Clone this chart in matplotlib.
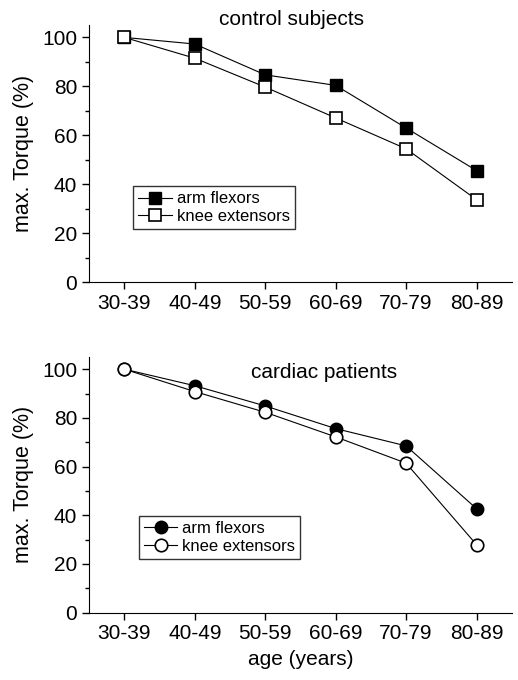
import matplotlib.pyplot as plt
from matplotlib.ticker import MultipleLocator

plt.rcParams['font.family'] = ['Liberation Sans', 'DejaVu Sans']

ages = ['30-39', '40-49', '50-59', '60-69', '70-79', '80-89']
ctrl_arm = [100, 97.3, 84.7, 80.4, 63.0, 45.6]
ctrl_knee = [100, 91.5, 79.7, 67.1, 54.5, 33.7]
card_arm = [100, 93.2, 84.9, 75.6, 68.5, 42.7]
card_knee = [100, 90.8, 82.3, 72.2, 61.4, 27.9]

fig = plt.figure(figsize=(5.18, 6.8), dpi=100)
ax1 = fig.add_axes([0.172, 0.585, 0.816, 0.378])
ax2 = fig.add_axes([0.172, 0.099, 0.816, 0.376])

x = list(range(len(ages)))

def style(ax):
    ax.set_xlim(-0.5, 5.5)
    ax.set_ylim(0, 105)
    ax.spines['top'].set_visible(False)
    ax.spines['right'].set_visible(False)
    ax.yaxis.set_major_locator(MultipleLocator(20))
    ax.yaxis.set_minor_locator(MultipleLocator(10))
    ax.set_xticks(x)
    ax.set_xticklabels(ages)
    ax.tick_params(axis='both', which='major', labelsize=15, length=5, width=1, direction='out')
    ax.tick_params(axis='y', which='minor', length=3, width=1)
    ax.set_ylabel('max. Torque (%)', fontsize=15.5, labelpad=6)

ax1.plot(x, ctrl_arm, '-', color='black', lw=0.8, marker='s', ms=8.5,
         mfc='black', mec='black', label='arm flexors')
ax1.plot(x, ctrl_knee, '-', color='black', lw=0.8, marker='s', ms=8.5,
         mfc='white', mec='black', mew=1.2, label='knee extensors')
style(ax1)
fig.text(0.563, 0.972, 'control subjects', fontsize=15, ha='center', va='center')
ax1.legend(loc='upper left', bbox_to_anchor=(0.085, 0.405), fontsize=12, frameon=True,
           fancybox=False, edgecolor='black', handlelength=2.0, borderpad=0.3,
           labelspacing=0.15, handletextpad=0.3)

ax2.plot(x, card_arm, '-', color='black', lw=0.8, marker='o', ms=9,
         mfc='black', mec='black', label='arm flexors')
ax2.plot(x, card_knee, '-', color='black', lw=0.8, marker='o', ms=9,
         mfc='white', mec='black', mew=1.2, label='knee extensors')
style(ax2)
ax2.text(0.555, 0.94, 'cardiac patients', transform=ax2.transAxes, fontsize=15,
         ha='center', va='center')
ax2.set_xlabel('age (years)', fontsize=15, labelpad=5)
ax2.legend(loc='upper left', bbox_to_anchor=(0.098, 0.41), fontsize=12, frameon=True,
           fancybox=False, edgecolor='black', handlelength=2.0, borderpad=0.3,
           labelspacing=0.15, handletextpad=0.3)

fig.savefig('out.png', dpi=100)
